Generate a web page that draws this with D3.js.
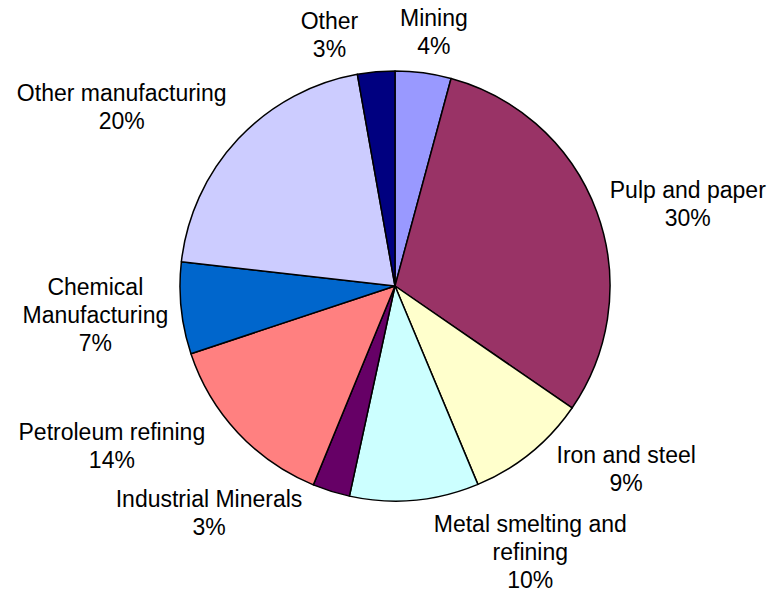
<!DOCTYPE html>
<html>
<head>
<meta charset="utf-8">
<script src="https://cdn.jsdelivr.net/npm/d3@7"></script>
<style>
  html, body { margin: 0; padding: 0; background: #fff; }
  svg { display: block; }
</style>
</head>
<body>
<svg id="chart" width="770" height="592"></svg>
<script>
// Share of industrial energy use by sector (clockwise from 12 o'clock)
const categories = [
  "Mining",
  "Pulp and paper",
  "Iron and steel",
  "Metal smelting and refining",
  "Industrial Minerals",
  "Petroleum refining",
  "Chemical Manufacturing",
  "Other manufacturing",
  "Other"
];
const shares = [4.2, 30.4, 9.1, 9.7, 2.8, 13.7, 6.9, 20.4, 2.8];

// Line breaks used in the slice labels
const labelLines = [
  ["Mining"],
  ["Pulp and paper"],
  ["Iron and steel"],
  ["Metal smelting and", "refining"],
  ["Industrial Minerals"],
  ["Petroleum refining"],
  ["Chemical", "Manufacturing"],
  ["Other manufacturing"],
  ["Other"]
];

const sliceColors = ["#9999FF", "#993366", "#FFFFCC", "#CCFFFF", "#660066",
                     "#FF8080", "#0066CC", "#CCCCFF", "#000080"];

// Layout
const cx = 395, cy = 286, radius = 215;
const fontSize = 23, lineGap = 28;
// Label block centres as [angle in degrees clockwise from top, distance from pie centre]
const labelPlacement = [
  [8.7, 257], [74.4, 304], [128.4, 295], [153.0, 298], [219.4, 293],
  [240.6, 325], [264.6, 301], [303.3, 327], [345.4, 260]
];

const svg = d3.select("#chart");
const g = svg.append("g").attr("transform", `translate(${cx},${cy})`);

const pie = d3.pie().sort(null).value(d => d).startAngle(0).endAngle(2 * Math.PI);
const arcs = pie(shares);
const arc = d3.arc().innerRadius(0).outerRadius(radius);
const total = d3.sum(shares);

g.selectAll("path.slice")
  .data(arcs)
  .join("path")
  .attr("class", "slice")
  .attr("d", arc)
  .attr("fill", (d, i) => sliceColors[i])
  .attr("stroke", "#000")
  .attr("stroke-width", 1.5)
  .attr("stroke-linejoin", "round");

const capHeight = fontSize * 0.716;

const labels = g.selectAll("text.label")
  .data(arcs)
  .join("text")
  .attr("class", "label")
  .attr("text-anchor", "middle")
  .attr("font-family", "Liberation Sans, Arial, Helvetica, sans-serif")
  .attr("font-size", fontSize)
  .attr("fill", "#000");

labels.each(function(d, i) {
  const [angDeg, dist] = labelPlacement[i];
  const a = angDeg * Math.PI / 180;
  const x = Math.sin(a) * dist;
  const y = -Math.cos(a) * dist;
  const lines = labelLines[i].concat([Math.round(d.value / total * 100) + "%"]);
  const firstBaseline = y - (lines.length - 1) * lineGap / 2 + capHeight / 2;
  const t = d3.select(this);
  lines.forEach((ln, k) => {
    t.append("tspan")
      .attr("x", x)
      .attr("y", firstBaseline + k * lineGap)
      .text(ln);
  });
});
</script>
</body>
</html>
